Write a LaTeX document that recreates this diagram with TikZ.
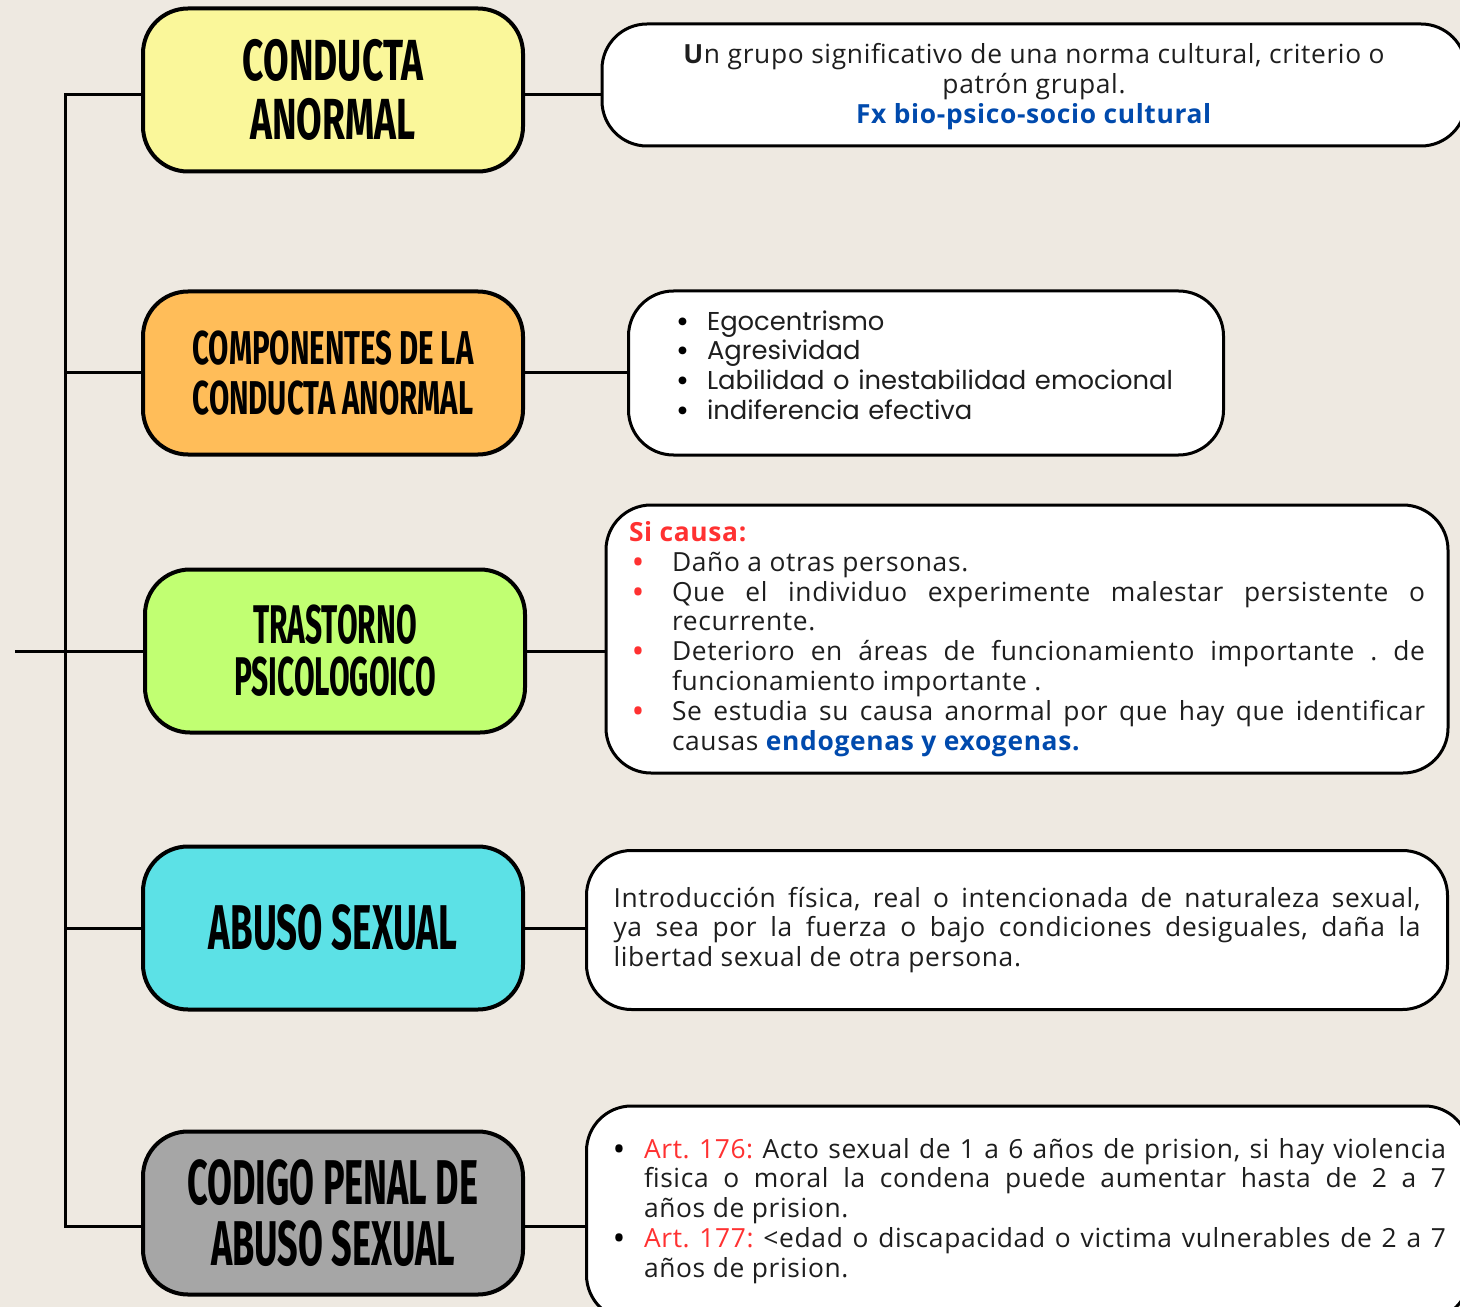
\documentclass[tikz,border=0pt]{standalone}
\usepackage{fontspec}
\setmainfont{Open Sans}[LetterSpace=2.5]
\newfontfamily\headfont[FakeStretch=0.6]{Fira Sans Bold}
\newfontfamily\listfont{Poppins}
\frenchspacing

\definecolor{paper}{HTML}{EEE9E1}
\definecolor{yellowc}{HTML}{FAF79A}
\definecolor{orangec}{HTML}{FFBD59}
\definecolor{greenc}{HTML}{C1FF72}
\definecolor{cyanc}{HTML}{5CE1E6}
\definecolor{grayc}{HTML}{A6A6A6}
\definecolor{bluet}{HTML}{004AAD}
\definecolor{redt}{HTML}{FF3131}
\definecolor{inkt}{HTML}{1E1E1E}

\newdimen\pu \pu=0.02cm
% bullet line with hanging indent
\newcommand\bul[3][black]{\par\noindent\hangindent=#2\hangafter=1\makebox[#2][l]{\hspace{4\pu}\textcolor{#1}{\textbf{\textbullet}}}#3}

\begin{document}
\begin{tikzpicture}[x=0.02cm, y=-0.02cm]
    \tikzstyle{every node} = [align=center]
    \tikzstyle{topic} = [draw, line width=4\pu, rounded corners=45\pu, minimum width=380\pu, minimum height=163\pu, inner sep=0pt]
    \tikzstyle{note} = [draw, fill=white, line width=3\pu, rounded corners=45\pu, inner sep=0pt, text=inkt, font=\fontsize{15}{17}\selectfont]
    \tikzstyle{link} = [line width=3\pu]

    \useasboundingbox (0,0) rectangle (1460,1307);
    \fill[paper] (0,0) rectangle (1460,1307);

    % topics
    \node[topic, fill=yellowc, font=\headfont\addfontfeature{FakeStretch=0.64}\fontsize{33}{34}\selectfont] (conducta) at (333,90) {CONDUCTA\\ANORMAL};
    \node[topic, fill=orangec, font=\headfont\addfontfeature{FakeStretch=0.62}\fontsize{27}{28.5}\selectfont] (componentes) at (333,373) {COMPONENTES DE LA\\CONDUCTA ANORMAL};
    \node[topic, fill=greenc, font=\headfont\addfontfeature{FakeStretch=0.55}\fontsize{31}{29.5}\selectfont] (trastorno) at (335,651) {TRASTORNO\\PSICOLOGOICO};
    \node[topic, fill=cyanc, font=\headfont\addfontfeature{FakeStretch=0.58}\fontsize{36}{36}\selectfont] (abuso) at (333,928) {ABUSO SEXUAL};
    \node[topic, fill=grayc, font=\headfont\addfontfeature{FakeStretch=0.57}\fontsize{36}{35}\selectfont] (codigo) at (333,1213) {CODIGO PENAL DE\\ABUSO SEXUAL};

    % notes
    \node[note, minimum width=864\pu, minimum height=122\pu] (def) at (1034,85)
        {\rule{0pt}{0pt}\\[-6\pu]\textbf{U}n grupo significativo de una norma cultural, criterio o\\patrón grupal.\\\textcolor{bluet}{\textbf{Fx bio-psico-socio cultural}}};
    \node[note, minimum width=595\pu, minimum height=164\pu, text width=508\pu, align=left, font=\listfont\fontsize{14.7}{17}\selectfont] (rasgos) at (926,373)
        {\bul{35\pu}{Egocentrismo}
         \bul{35\pu}{Agresividad}
         \bul{35\pu}{Labilidad o inestabilidad emocional}
         \bul{35\pu}{indiferencia efectiva}\par\vspace{26\pu}};
    \node[note, minimum width=842\pu, minimum height=268\pu, text width=796\pu, align=justify] (causa) at (1027,639)
        {\noindent\textcolor{redt}{\textbf{Si causa:}}
         \bul[redt]{43\pu}{Daño a otras personas.}
         \bul[redt]{43\pu}{Que el individuo experimente malestar persistente o\linebreak recurrente.}
         \bul[redt]{43\pu}{Deterioro en áreas de funcionamiento importante . de\linebreak funcionamiento importante .}
         \bul[redt]{43\pu}{Se estudia su causa anormal por que hay que identificar\linebreak causas \textcolor{bluet}{\textbf{endogenas y exogenas.}}}\par};
    \node[note, minimum width=861\pu, minimum height=159\pu, text width=807\pu, align=justify] (intro) at (1017,930)
        {Introducción física, real o intencionada de naturaleza sexual,\linebreak ya sea por la fuerza o bajo condiciones desiguales, daña la\linebreak libertad sexual de otra persona.\par};
    \node[note, minimum width=883\pu, minimum height=214\pu, text width=836\pu, align=justify] (arts) at (1028,1213)
        {\bul{34\pu}{\textcolor{redt}{Art.~176:} Acto sexual de 1 a 6 años de prision, si hay violencia\linebreak fisica o moral la condena puede aumentar hasta de 2 a 7\linebreak años de prision.}
         \bul{34\pu}{\textcolor{redt}{Art.~177:} <edad o discapacidad o victima vulnerables de 2 a 7\linebreak años de prision.}\par\vspace{14\pu}};

    % tree lines
    \coordinate (trunk) at (65,0);
    \coordinate (entry) at (15,651);
    \draw[link] ([yshift=-5\pu]conducta.west) -- ([yshift=-5\pu]conducta.west -| trunk) -- ([yshift=-13\pu]codigo.west -| trunk) -- ([yshift=-13\pu]codigo.west);
    \draw[link] (componentes.west) -- (componentes.west -| trunk);
    \draw[link] (entry) -- (trastorno.west);
    \draw[link] (abuso.west) -- (abuso.west -| trunk);

    % links to notes
    \draw[link] ([yshift=-5\pu]conducta.east) -- ([yshift=-5\pu]conducta.east -| def.west);
    \draw[link] (componentes.east) -- (rasgos.west);
    \draw[link] (trastorno.east) -- (trastorno.east -| causa.west);
    \draw[link] (abuso.east) -- (abuso.east -| intro.west);
    \draw[link] ([yshift=-13\pu]codigo.east) -- ([yshift=-13\pu]codigo.east -| arts.west);
\end{tikzpicture}
\end{document}
